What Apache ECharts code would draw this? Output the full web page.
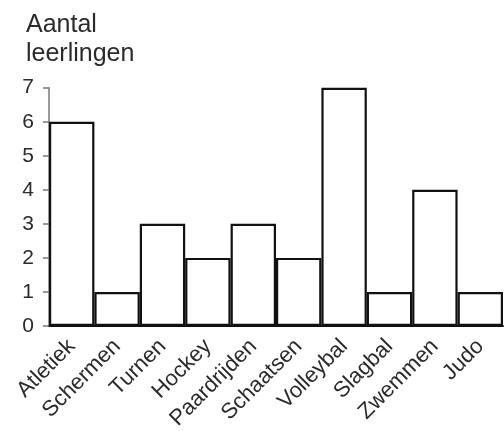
<!DOCTYPE html>
<html>
<head>
<meta charset="utf-8">
<script src="https://cdn.jsdelivr.net/npm/echarts@6/dist/echarts.min.js"></script>
<style>
    html, body { margin: 0; padding: 0; background: #fff; }
    #chart { width: 504px; height: 431px; }
</style>
</head>
<body>
<div id="chart"></div>
<script>
// sporten en aantal leerlingen
let sporten = ['Atletiek', 'Schermen', 'Turnen', 'Hockey', 'Paardrijden', 'Schaatsen', 'Volleybal', 'Slagbal', 'Zwemmen', 'Judo'];
let aantallen = [6, 1, 3, 2, 3, 2, 7, 1, 4, 1];
let yTicks = [0, 1, 2, 3, 4, 5, 6, 7];

let fontName = '"Liberation Sans", Arial, Helvetica, sans-serif';
let myChart = echarts.init(document.getElementById('chart'));

let option = {
    animation: false,
    backgroundColor: '#fff',
    title: {
        text: 'Aantal\nleerlingen',
        left: 21,
        top: 6,
        textStyle: {
            fontFamily: fontName,
            fontSize: 25,
            fontWeight: 'normal',
            color: '#2b2b2b',
            lineHeight: 29
        }
    },
    grid: {
        left: 49,
        right: 1,
        top: 87.7,
        bottom: 105,
        outerBoundsMode: 'none'
    },
    xAxis: {
        type: 'category',
        data: sporten,
        axisLine: { show: true, lineStyle: { color: '#111', width: 2 } },
        axisTick: { show: false },
        axisLabel: {
            interval: 0,
            rotate: 45,
            margin: 17,
            fontFamily: fontName,
            fontSize: 22,
            color: '#2b2b2b'
        }
    },
    yAxis: {
        type: 'value',
        min: yTicks[0],
        max: yTicks[yTicks.length - 1],
        interval: 1,
        axisLine: { show: true, lineStyle: { color: '#777', width: 1.5 } },
        axisTick: { show: true, length: 6, lineStyle: { color: '#777', width: 1.5 } },
        splitLine: { show: false },
        axisLabel: {
            margin: 15,
            fontFamily: fontName,
            fontSize: 21,
            color: '#2b2b2b'
        }
    },
    series: [{
        type: 'bar',
        data: aantallen,
        barCategoryGap: '0%',
        itemStyle: {
            color: '#fff',
            borderColor: '#111',
            borderWidth: 2.2
        }
    }]
};
myChart.setOption(option);
</script>
</body>
</html>
